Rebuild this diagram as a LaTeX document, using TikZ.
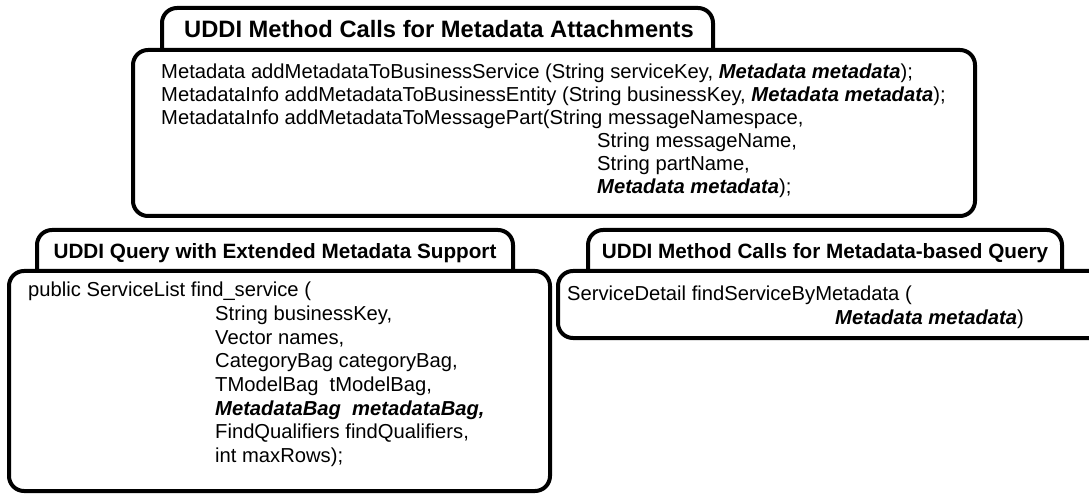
\documentclass[tikz,border=0pt]{standalone}
\usepackage{fontspec}
\setmainfont{Liberation Sans}
\begin{document}
\begin{tikzpicture}[x=1pt,y=-1pt,
  frame/.style={line width=4pt, rounded corners=15pt, fill=white},
  tabtitle/.style={anchor=base, inner sep=0pt, font=\fontsize{20.7}{24}\selectfont\bfseries},
  toptitle/.style={anchor=base, inner sep=0pt, font=\fontsize{23.7}{28}\selectfont\bfseries},
  code/.style={anchor=base west, inner sep=0pt, font=\fontsize{20.2}{23}\selectfont}]
\useasboundingbox (0,0) rectangle (1089,494);
\fill[white] (0,0) rectangle (1089,494);
% top panel
\draw[frame] (162,50) -- (162,8) -- (713,8) -- (713,50);
\draw[frame] (133,50) rectangle (975,216);
\node[toptitle] (ttop) at (439,38) {UDDI Method Calls for Metadata Attachments};
\node[code] (a1) at (161,79) {Metadata addMetadataToBusinessService (String serviceKey, \textbf{\textit{Metadata metadata}});};
\node[code] (a2) at (161,102) {MetadataInfo addMetadataToBusinessEntity (String businessKey, \textbf{\textit{Metadata metadata}});};
\node[code] (a3) at (161,125) {MetadataInfo addMetadataToMessagePart(String messageNamespace,};
\node[code] (a4) at (597,148) {String messageName,};
\node[code] (a5) at (597,171) {String partName,};
\node[code] (a6) at (597,194) {\textbf{\textit{Metadata metadata}});};
% bottom left panel
\draw[frame] (37,272) -- (37,230) -- (513,230) -- (513,272);
\draw[frame] (9,271) rectangle (550,491);
\node[tabtitle] (tbl) at (275,259) {UDDI Query with Extended Metadata Support};
\node[code] (b1) at (28,297) {public ServiceList find\_service (};
\node[code] (b2) at (215,320.6) {String businessKey,};
\node[code] (b3) at (215,344.2) {Vector names,};
\node[code] (b4) at (215,367.8) {CategoryBag categoryBag,};
\node[code] (b5) at (215,391.4) {TModelBag\ \ tModelBag,};
\node[code] (b6) at (215,415) {\textbf{\textit{MetadataBag\ \ metadataBag,}}};
\node[code] (b7) at (215,438.6) {FindQualifiers findQualifiers,};
\node[code] (b8) at (215,462.2) {int maxRows);};
% bottom right panel
\draw[frame] (588,271) -- (588,230) -- (1062,230) -- (1062,271);
\draw[frame] (558,271) rectangle (1120,338);
\node[tabtitle] (tbr) at (825,259) {UDDI Method Calls for Metadata-based Query};
\node[code] (c1) at (567,301) {ServiceDetail findServiceByMetadata (};
\node[code] (c2) at (835,324) {\textbf{\textit{Metadata metadata}})};
\end{tikzpicture}
\end{document}
